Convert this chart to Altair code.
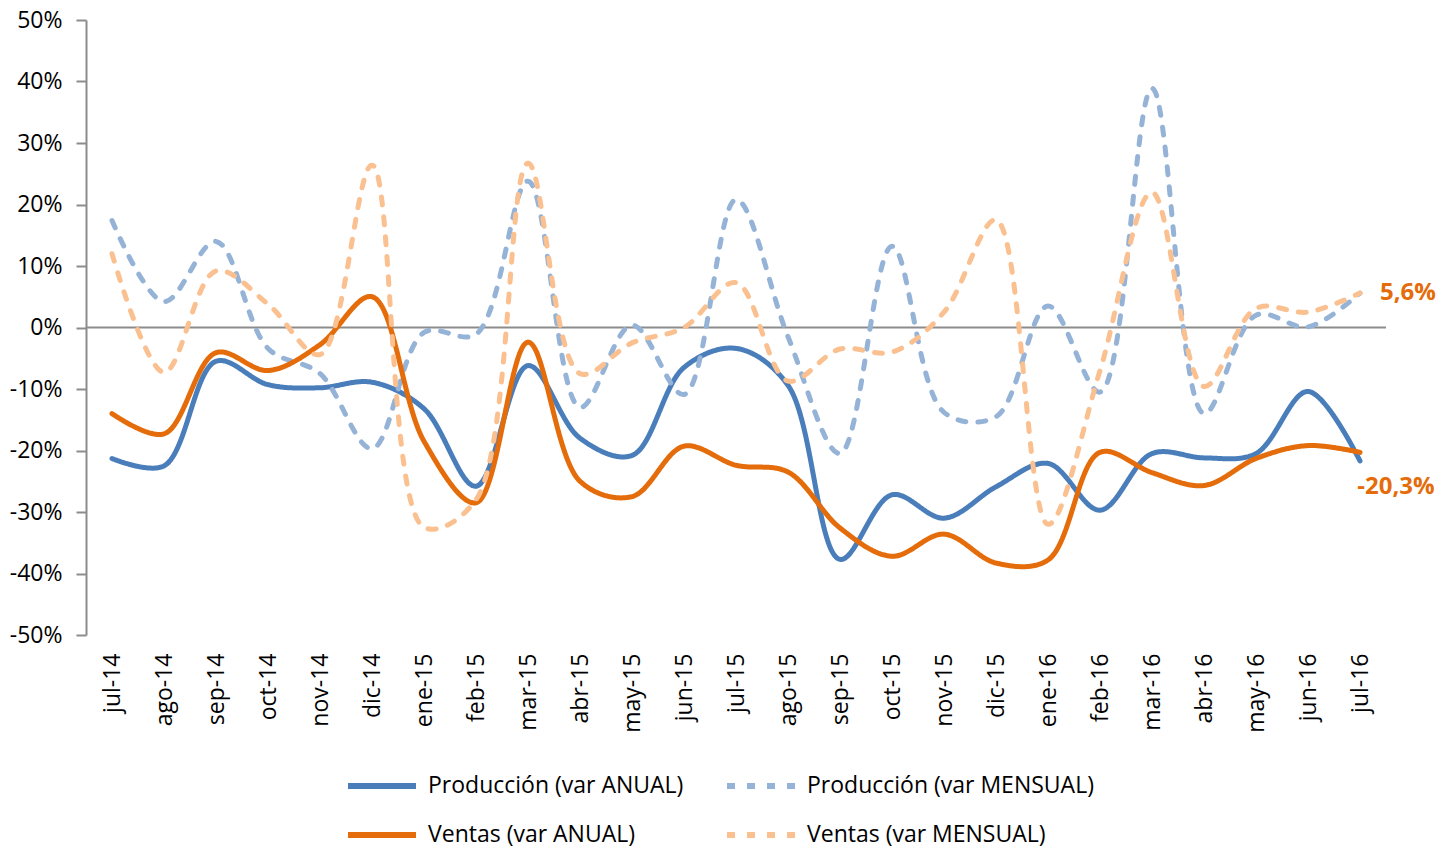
import altair as alt
import pandas as pd

months = ["jul-14", "ago-14", "sep-14", "oct-14", "nov-14", "dic-14", "ene-15", "feb-15",
          "mar-15", "abr-15", "may-15", "jun-15", "jul-15", "ago-15", "sep-15", "oct-15",
          "nov-15", "dic-15", "ene-16", "feb-16", "mar-16", "abr-16", "may-16", "jun-16", "jul-16"]

prod_anual = [-21.3, -22.5, -5.5, -9.3, -9.8, -8.9, -13.2, -25.8, -6.2, -18.0, -20.8, -6.5,
              -3.4, -9.4, -37.7, -27.2, -31.0, -25.9, -22.1, -29.7, -20.5, -21.2, -20.5, -10.4, -21.7]
prod_mensual = [17.4, 4.2, 14.0, -3.4, -7.5, -19.7, -0.8, -1.1, 23.8, -13.0, 0.4, -10.9,
                20.8, -1.5, -20.5, 13.2, -13.8, -14.5, 3.5, -10.5, 38.9, -14.0, 2.0, 0.1, 5.6]
ventas_anual = [-14.0, -17.3, -4.1, -7.0, -2.8, 5.0, -18.5, -28.5, -2.4, -25.0, -27.5, -19.3,
                -22.4, -23.5, -32.6, -37.2, -33.6, -38.3, -37.8, -20.3, -23.6, -25.7, -21.3, -19.2, -20.3]
ventas_mensual = [12.0, -7.3, 9.2, 3.8, -4.4, 26.4, -32.5, -28.0, 26.7, -7.5, -2.5, 0.0,
                  7.3, -8.7, -3.5, -4.0, 2.5, 17.5, -32.0, -7.0, 22.0, -9.6, 3.1, 2.5, 5.6]

series_names = ["Producción (var ANUAL)", "Producción (var MENSUAL)",
                "Ventas (var ANUAL)", "Ventas (var MENSUAL)"]
series_values = [prod_anual, prod_mensual, ventas_anual, ventas_mensual]
colors = ["#4A7EBB", "#95B3D7", "#E46C0A", "#FAC090"]
dashes = [[1, 0], [8, 12], [1, 0], [8, 12]]

y_ticks = [-0.5, -0.4, -0.3, -0.2, -0.1, 0.0, 0.1, 0.2, 0.3, 0.4, 0.5]

rows = []
for name, vals in zip(series_names, series_values):
    for m, v in zip(months, vals):
        rows.append({"mes": m, "serie": name, "valor": v / 100.0})
df = pd.DataFrame(rows)

annot_top = pd.DataFrame({"mes": ["jul-16"], "valor": [0.056], "texto": ["5,6%"]})
annot_bot = pd.DataFrame({"mes": ["jul-16"], "valor": [-0.203], "texto": ["-20,3%"]})
zero_df = pd.DataFrame({"mes": ["jul-16"], "valor": [0.0]})

FONT = "Open Sans"

x_enc = alt.X("mes:N", sort=months, title=None,
              scale=alt.Scale(type="point", padding=0.5),
              axis=alt.Axis(labelAngle=-90, labelAlign="right", labelBaseline="middle",
                            labelPadding=18, domain=False, ticks=False, grid=False,
                            labelFontSize=23, labelFont=FONT, labelColor="#000000"))
y_axis = alt.Axis(values=y_ticks, labelExpr="round(datum.value*100) + '%'",
                  grid=False, domainColor="#8C8C8C", domainWidth=2,
                  tickColor="#8C8C8C", tickWidth=2, tickSize=10, labelPadding=14,
                  labelFontSize=23, labelFont=FONT, labelColor="#000000")
y_enc = alt.Y("valor:Q", scale=alt.Scale(domain=[-0.5, 0.5], nice=False), title=None, axis=y_axis)

leg = alt.Legend(title=None, orient="none", legendX=259, legendY=729,
                 direction="horizontal", columns=2, columnPadding=31, rowPadding=-12,
                 symbolType="M-1,0L1,0", symbolSize=4624, symbolStrokeWidth=6,
                 labelFontSize=23, labelFont=FONT, labelColor="#000000",
                 labelOffset=9, labelLimit=0, padding=0)

zero = alt.Chart(zero_df).mark_rule(color="#8C8C8C", strokeWidth=2).encode(y=y_enc)

lines = alt.Chart(df).mark_line(interpolate="catmull-rom", strokeWidth=5, strokeCap="round").encode(
    x=x_enc,
    y=y_enc,
    color=alt.Color("serie:N", sort=series_names,
                    scale=alt.Scale(domain=series_names, range=colors), legend=leg),
    strokeDash=alt.StrokeDash("serie:N", sort=series_names,
                              scale=alt.Scale(domain=series_names, range=dashes), legend=leg),
)

txt_top = alt.Chart(annot_top).mark_text(
    align="left", baseline="middle", dx=20, fontSize=24, fontWeight="bold",
    font=FONT, color="#E46C0A"
).encode(x=x_enc, y=y_enc, text="texto:N")

txt_bot = alt.Chart(annot_bot).mark_text(
    align="center", baseline="middle", dx=36, dy=35, fontSize=24, fontWeight="bold",
    font=FONT, color="#E46C0A"
).encode(x=x_enc, y=y_enc, text="texto:N")

chart = alt.layer(zero, lines, txt_top, txt_bot).properties(
    width=1300, height=615,
    autosize=alt.AutoSizeParams(type="none"),
    padding={"left": 78, "top": 12, "right": 61, "bottom": 215},
).configure(background="#FFFFFF").configure_view(stroke=None)

chart.save("out.html", embed_options={"renderer": "svg", "actions": False})
